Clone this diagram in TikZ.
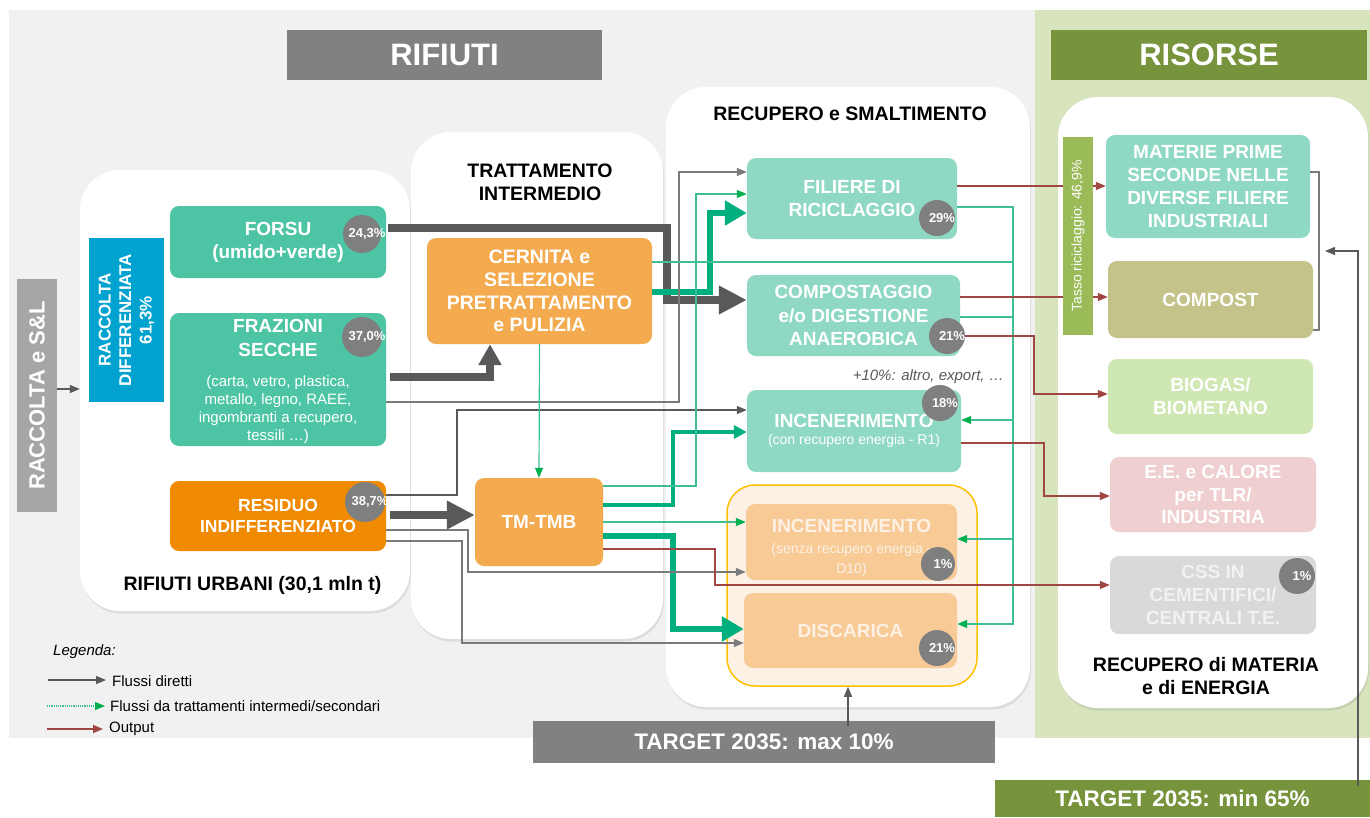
\documentclass[tikz,border=0pt]{standalone}
\usepackage{fontspec}
\setmainfont{Liberation Sans}
\usetikzlibrary{arrows.meta,positioning,calc,shadows}

\definecolor{bggrey}{HTML}{F1F1F1}
\definecolor{bggreen}{HTML}{D7E4BD}
\definecolor{hdrgrey}{HTML}{7F8182}
\definecolor{hdrgreen}{HTML}{77933C}
\definecolor{rsgrey}{HTML}{A6A6A6}
\definecolor{rdblue}{HTML}{00A3CF}
\definecolor{tealA}{HTML}{4DC5A5}
\definecolor{tealB}{HTML}{8FD9C4}
\definecolor{orA}{HTML}{F08A00}
\definecolor{orB}{HTML}{F4AA4E}
\definecolor{orC}{HTML}{F8CB96}
\definecolor{yelB}{HTML}{FFC000}
\definecolor{yelF}{HTML}{FDF1E6}
\definecolor{cpstc}{HTML}{C4C48A}
\definecolor{biogc}{HTML}{CFE8B3}
\definecolor{eec}{HTML}{EFCFCF}
\definecolor{cssc}{HTML}{D9D9D9}
\definecolor{tassoc}{HTML}{9BBB59}
\definecolor{pctc}{HTML}{7F7F7F}
\definecolor{lgrey}{HTML}{595959}
\definecolor{fgrey}{HTML}{7A7A7A}
\definecolor{vgreen}{HTML}{00AE7E}
\definecolor{tgreen}{HTML}{3DBE94}
\definecolor{agreen}{HTML}{00B050}
\definecolor{outred}{HTML}{A04643}

\newcommand{\fsz}[2]{\fontsize{#1}{#2}\selectfont}
\newcommand{\pcnt}[1]{\makebox[0pt]{\hspace{10pt}#1\%}}

\tikzset{
  panel/.style={fill=white, rounded corners=40pt, drop shadow={opacity=0.18, shadow xshift=1pt, shadow yshift=-2.5pt}},
  rbox/.style={rounded corners=9pt, inner sep=0pt, align=flush center, text=white, font=\bfseries\fsz{19}{23}},
  sqbox/.style={inner sep=0pt, align=center, text=white},
  intxt/.style={inner sep=0pt, align=center, text=white},
  pct/.style={circle, fill=pctc, inner sep=0pt, minimum size=#1, text=white, font=\bfseries\fsz{13}{15}},
  ttl/.style={align=center, inner sep=0pt, font=\bfseries\fsz{19.5}{23}},
  flowdir/.style={line width=1.3pt, draw=fgrey, -{Triangle[length=10pt,width=8pt]}},
  flowsec/.style={line width=1.2pt, draw=tgreen, -{Triangle[length=10pt,width=8pt,color=agreen]}},
  secline/.style={line width=1.2pt, draw=tgreen},
  flowout/.style={line width=1.3pt, draw=outred, -{Triangle[length=10pt,width=8pt]}},
  bigflow/.style={line width=8pt, draw=lgrey, -{Triangle[length=28pt,width=27pt]}},
  bigsec/.style={line width=6pt, draw=vgreen, -{Triangle[length=22pt,width=24pt]}},
  midsec/.style={line width=3.5pt, draw=vgreen, -{Triangle[length=13pt,width=13pt]}},
}

\begin{document}
\begin{tikzpicture}[x=1pt, y=-1pt]
    \useasboundingbox (0,0) rectangle (1370,817);
    % fondi
    \fill[bggrey] (9,10) rectangle (1035,738);
    \fill[bggreen] (1035,10) rectangle (1370,738);

    % intestazioni
    \node[sqbox, fill=hdrgrey, minimum width=315pt, minimum height=50pt, font=\bfseries\fsz{31}{34}] (hrif) at (444.5,55) {RIFIUTI};
    \node[sqbox, fill=hdrgreen, minimum width=316pt, minimum height=50pt, font=\bfseries\fsz{31}{34}] (hris) at (1209,55) {RISORSE};

    % pannelli
    \node[panel, minimum width=330pt, minimum height=441pt] (purb) at (245,390.5) {};
    \node[panel, minimum width=252pt, minimum height=507pt] (ptrat) at (537,385.5) {};
    \node[panel, minimum width=364pt, minimum height=620pt] (prec) at (848,397) {};
    \node[panel, minimum width=310pt, minimum height=611pt] (pris) at (1213,402.5) {};
    \node[draw=yelB, fill=yelF, line width=1.5pt, rounded corners=28pt, minimum width=250pt, minimum height=201pt] (yel) at (852,585.5) {};

    \node[ttl] (turb) at (252.5,585) {RIFIUTI URBANI (30,1 mln t)};
    \node[ttl] (ttrat) at (540,182) {TRATTAMENTO\\INTERMEDIO};
    \node[ttl] (trec) at (850,114) {RECUPERO e SMALTIMENTO};
    \node[ttl] (tris) at (1206,676) {RECUPERO di MATERIA\\e di ENERGIA};

    % raccolta
    \node[sqbox, fill=rsgrey, rotate=90, minimum width=233pt, minimum height=40pt, font=\bfseries\fsz{22}{26}] (racc) at (37,395.5) {RACCOLTA e S\&L};
    \node[sqbox, fill=rdblue, rotate=90, minimum width=164pt, minimum height=75pt, font=\bfseries\fsz{17}{20.5}] (rd) at (126.5,320) {RACCOLTA\\DIFFERENZIATA\\61,3\%};

    % rifiuti urbani
    \node[rbox, fill=tealA, minimum width=216pt, minimum height=72pt] (forsu) at (278,242) {FORSU\\(umido+verde)};
    \node[rbox, fill=tealA, minimum width=216pt, minimum height=133pt] (fraz) at (278,379.5) {};
    \node[intxt, font=\bfseries\fsz{19}{24}] (frazt) at (278,337.5) {FRAZIONI\\SECCHE};
    \node[intxt, font=\fsz{15}{18}] (frazs) at (278,410) {(carta, vetro, plastica,\\metallo, legno, RAEE,\\ingombranti a recupero,\\tessili …)};
    \node[rbox, fill=orA, minimum width=216pt, minimum height=70pt, font=\bfseries\fsz{17.5}{20.5}] (resid) at (278,516) {RESIDUO\\INDIFFERENZIATO};

    % trattamento intermedio
    \node[rbox, fill=orB, minimum width=225pt, minimum height=106pt, font=\bfseries\fsz{19.5}{22.7}] (cern) at (539.5,291) {CERNITA e\\SELEZIONE\\PRETRATTAMENTO\\e PULIZIA};
    \node[rbox, fill=orB, minimum width=128pt, minimum height=88pt] (tmb) at (539,522) {TM-TMB};

    % recupero e smaltimento
    \node[rbox, fill=tealB, minimum width=210pt, minimum height=81pt] (fil) at (852,198.5) {FILIERE DI\\RICICLAGGIO};
    \node[rbox, fill=tealB, minimum width=213pt, minimum height=81pt, font=\bfseries\fsz{19}{23.5}] (comp) at (853.5,315.5) {COMPOSTAGGIO\\e/o DIGESTIONE\\ANAEROBICA};
    \node[rbox, fill=tealB, minimum width=214pt, minimum height=82pt, text width=210pt] (incr1) at (854,431)
        {INCENERIMENTO\par{\fsz{14}{17}\mdseries (con recupero energia - R1)\par}};
    \node[rbox, fill=orC, minimum width=211pt, minimum height=76pt] (d10) at (851.5,542) {};
    \node[intxt, text=yelF, font=\bfseries\fsz{19}{23}] (d10t) at (851.5,525.5) {INCENERIMENTO};
    \node[intxt, text=yelF, font=\fsz{14}{19.5}] (d10s) at (851.5,560) {(senza recupero energia -\\D10)};
    \node[rbox, fill=orC, minimum width=213pt, minimum height=75pt, text=yelF] (disc) at (850.5,630.5) {DISCARICA};
    \node[anchor=east, inner sep=0pt, font=\itshape\fsz{15}{18}, text=lgrey] (altro) at (1004,377) {+10\%: altro, export, …};

    % risorse
    \node[rbox, fill=tealB, minimum width=204pt, minimum height=103pt] (mps) at (1208,186.5) {MATERIE PRIME\\SECONDE NELLE\\DIVERSE FILIERE\\INDUSTRIALI};
    \node[rbox, fill=cpstc, minimum width=205pt, minimum height=77pt] (cpst) at (1210.5,299.5) {COMPOST};
    \node[rbox, fill=biogc, minimum width=205pt, minimum height=75pt] (biog) at (1210.5,396.5) {BIOGAS/\\BIOMETANO};
    \node[rbox, fill=eec, minimum width=206pt, minimum height=75pt, font=\bfseries\fsz{19}{22.5}] (ee) at (1213,494.5) {E.E. e CALORE\\per TLR/\\INDUSTRIA};
    \node[rbox, fill=cssc, minimum width=206pt, minimum height=78pt, text=white!95!black] (css) at (1213,595) {CSS IN\\CEMENTIFICI/\\CENTRALI T.E.};

    % percentuali
    \node[pct=38pt] (p1) at (362,234) {\pcnt{24,3}};
    \node[pct=40pt] (p2) at (362,337) {\pcnt{37,0}};
    \node[pct=40pt] (p3) at (365,502) {\pcnt{38,7}};
    \node[pct=36pt] (p4) at (937,218) {\pcnt{29}};
    \node[pct=36pt] (p5) at (947,336) {\pcnt{21}};
    \node[pct=36pt] (p6) at (940,403) {\pcnt{18}};
    \node[pct=34pt] (p7) at (938,564) {\pcnt{1}};
    \node[pct=36pt] (p8) at (937,648) {\pcnt{21}};
    \node[pct=36pt] (p9) at (1297,576) {\pcnt{1}};

    % flussi principali
    \coordinate (k1) at (667,300);
    \coordinate (k2) at (490,377);
    \draw[bigflow] ([xshift=2pt,yshift=14pt]forsu.east) -| (k1) -- (k1 -| comp.west);
    \draw[bigflow, -{Triangle[length=21pt,width=22pt]}] ([xshift=4pt,yshift=2.5pt]fraz.east) -- (k2) -- (k2 |- cern.south);
    \draw[bigflow] ([xshift=4pt,yshift=1pt]resid.east) -- ([yshift=7pt]tmb.west);
    \draw[bigsec] ([yshift=-1pt]cern.east) -| (710,213) -- ([yshift=-14.5pt]fil.west);
    \draw[midsec] ([yshift=17pt]tmb.east) -| (673,432) -- ([yshift=-1pt]incr1.west);
    \draw[bigsec] ([yshift=-14pt]tmb.east) -| (673,629) -- ([yshift=1.5pt]disc.west);

    % flussi diretti
    \draw[flowdir, draw=lgrey] ([yshift=6.5pt]racc.south) -- ([yshift=1.5pt]purb.west);
    \draw[flowdir] ([yshift=-22.5pt]fraz.east) -| (679,172) -- ([yshift=26.5pt]fil.west);
    \draw[flowdir, draw=lgrey] ([yshift=21pt]resid.east) -| (457,410) -- ([yshift=21pt]incr1.west);
    \draw[flowdir] ([yshift=-14pt]resid.east) -| (468,572) -- ([yshift=-30pt]d10.west);
    \draw[flowdir] ([yshift=-25pt]resid.east) -| (462,643) -- ([yshift=-12.5pt]disc.west);

    % flussi da trattamenti
    \draw[flowsec] (cern.south) -- (tmb.north);
    \draw[flowsec] ([yshift=36pt]tmb.east) -| (696,194) -- ([yshift=4.5pt]fil.west);
    \draw[flowsec] (tmb.east) -- (tmb.east -| d10.west);
    \draw[flowsec] ([yshift=-8.5pt]fil.east) -| (1013,624) -- ([yshift=6.5pt]disc.east);
    \draw[secline] ([yshift=29pt]cern.east) -- (1013,262);
    \draw[secline] ([yshift=-1.5pt]comp.east) -- (1013,317);
    \draw[flowsec] (1013,420) -- ([yshift=11pt]incr1.east);
    \draw[flowsec] (1013,539) -- ([yshift=3pt]d10.east);

    % output
    \draw[flowout] ([yshift=12.5pt]fil.east) -- ([yshift=0.5pt]mps.west);
    \draw[flowout] ([yshift=18.5pt]comp.east) -- ([yshift=2.5pt]cpst.west);
    \draw[flowout] (p5.east) -| (1034,394) -- ([yshift=2.5pt]biog.west);
    \draw[flowout] ([yshift=-12pt]incr1.east) -| (1044,496) -- ([yshift=-1.5pt]ee.west);
    \draw[flowout] ([yshift=-27pt]tmb.east) -| (715,585) -- ([yshift=10pt]css.west);

    \node[sqbox, fill=tassoc, rotate=90, minimum width=198pt, minimum height=30pt, font=\fsz{14}{16}] (tasso) at (1078,236) {Tasso riciclaggio: 46,9\%};

    % target
    \node[sqbox, fill=hdrgrey, minimum width=462pt, minimum height=42pt, font=\bfseries\fsz{22.5}{26}] (t10) at (764,742) {TARGET 2035: max 10\%};
    \node[sqbox, fill=hdrgreen, minimum width=375pt, minimum height=37pt, font=\bfseries\fsz{22.5}{26}] (t65) at (1182.5,798.5) {TARGET 2035: min 65\%};
    \coordinate (t10a) at (848,726);
    \coordinate (t65a) at (1358,786);
    \draw[flowdir, draw=lgrey] (t10a) -- (t10a |- yel.south);
    \draw[line width=1.3pt, draw=fgrey] ([yshift=14.5pt]mps.east) -| (1319,330) -- ([yshift=-30.5pt]cpst.east);
    \draw[flowdir, draw=lgrey] (t65a) |- (1325,251);

    % legenda
    \node[anchor=west, inner sep=0pt, font=\itshape\fsz{15}{18}] (legt) at (53,652) {Legenda:};
    \node[anchor=west, inner sep=0pt, font=\fsz{15}{18}] (leg1) at (112,681) {Flussi diretti};
    \node[anchor=west, inner sep=0pt, font=\fsz{15}{18}] (leg2) at (110,706) {Flussi da trattamenti intermedi/secondari};
    \node[anchor=west, inner sep=0pt, font=\fsz{15}{18}] (leg3) at (109,729) {Output};
    \coordinate (l1) at (48,680);
    \coordinate (l2) at (47,706);
    \coordinate (l3) at (47,729);
    \draw[flowdir, draw=lgrey] (l1) -- ([xshift=-6pt]leg1.west |- l1);
    \draw[flowsec, densely dotted] (l2) -- ([xshift=-5pt]leg2.west |- l2);
    \draw[flowout] (l3) -- ([xshift=-6pt]leg3.west |- l3);
\end{tikzpicture}
\end{document}
